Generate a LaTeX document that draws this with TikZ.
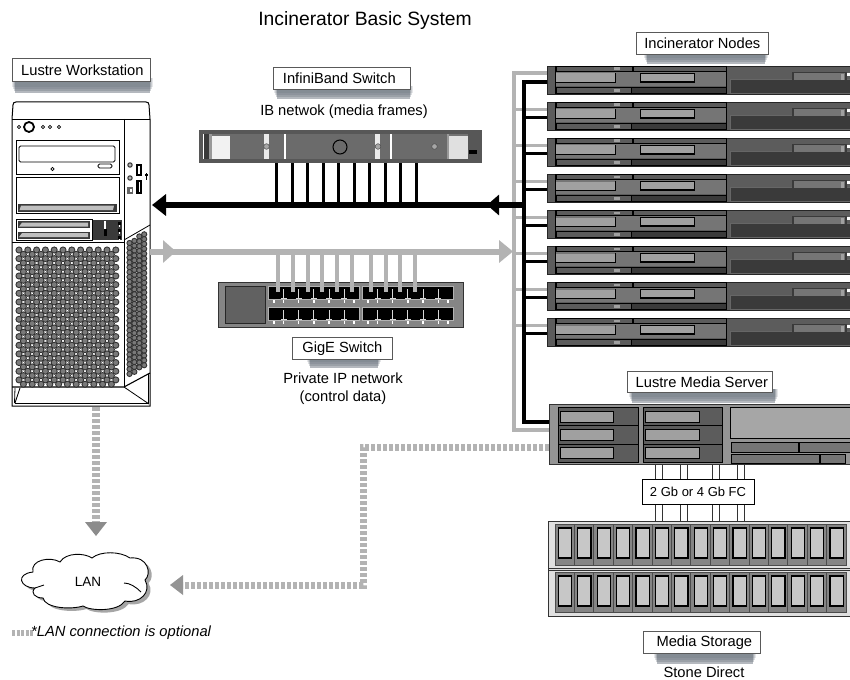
\documentclass[tikz,border=0pt]{standalone}
\usepackage{fontspec}
\setmainfont{Liberation Sans}
\usetikzlibrary{arrows.meta,calc}
\definecolor{busgray}{HTML}{B3B3B3}
\definecolor{shadowc}{HTML}{59636F}
\definecolor{rackdark}{HTML}{3A3A3A}
\definecolor{rackmid}{HTML}{5C5C5C}
\definecolor{racklt}{HTML}{757575}
\definecolor{slotc}{HTML}{A0A0A0}
\tikzset{
  lbl/.style={font=\fontsize{14.7}{17}\selectfont,inner sep=0pt,align=center},
  lblbox/.style={draw=black!65,line width=.7pt,fill=white,inner sep=0pt,font=\fontsize{14.7}{17}\selectfont},
  blackwire/.style={draw=black,line width=3.6pt},
  graywire/.style={draw=busgray,line width=3.6pt},
  blackbus/.style={draw=black,line width=6pt},
  graybus/.style={draw=busgray,line width=6pt},
  dev/.style={inner sep=0pt,anchor=north west},
  hw/.style={draw=black,line width=.8pt},
  mesh/.style={fill=black!52,draw=black!80,line width=.9pt},
}
% label box with soft shadow: name, x0,y0,x1,y1, shadow x0,x1, depth, text
\newcommand{\labelbox}[9]{%
  \foreach \e/\o in {3/.15,2/.2,1/.28,0/.45}{
    \fill[shadowc,opacity=\o] (#6-\e,#5-3) rectangle (#7+\e,#5+#8-\e*2);}
  \node[lblbox,name=#1,minimum width=#4pt-#2pt,minimum height=#5pt-#3pt,anchor=north west] at (#2,#3) {#9};
}
\newcommand{\rackunit}[2]{%
  \node[dev,name=#1,minimum width=303pt,minimum height=28pt,fill=rackmid,draw=black!85,line width=.8pt] at (547,#2) {};
  \begin{scope}[shift={(547,#2)}]
    \fill[racklt] (9,6) rectangle (179,20);
    \fill[rackmid,draw=black,line width=.7pt] (9,0.5) rectangle (85,5.5);
    \fill[rackmid,draw=black,line width=.7pt] (86,0.5) rectangle (179,5.5);
    \fill[slotc] (67,1.5) rectangle (73,4);
    \fill[rackmid,draw=black,line width=.7pt] (9,21) rectangle (84,27.5);
    \fill[rackdark,draw=black,line width=.7pt] (84,21) rectangle (179,27.5);
    \fill[slotc] (67,23) rectangle (73,26);
    \draw[black,line width=.8pt] (8,0) -- (8,28);
    \fill[slotc] (9,7.5) rectangle (68.5,16);
    \draw[black,line width=1.2pt] (68.5,7) -- (68.5,16.5) -- (9,16.5);
    \fill[slotc,draw=black,line width=1.1pt] (93.7,7.5) rectangle (147.3,16);
    \draw[black,line width=.8pt] (179,0) -- (179,28);
    \fill[rackdark,draw=black!60,line width=.7pt] (183,13) rectangle (303,27);
    \fill[racklt,draw=rackdark,line width=1.2pt] (246,6.5) rectangle (299,15);
    \fill[slotc] (293.5,8) rectangle (297,14);
    \fill[white] (300,7) rectangle (303,10);
  \end{scope}
}
\begin{document}
\begin{tikzpicture}[x=1pt,y=-1pt]
\useasboundingbox (0,0) rectangle (850,679);
\fill[white] (0,0) rectangle (850,679);
\node[font=\fontsize{19.3}{22}\selectfont,inner sep=0pt,name=title] at (365,20.5) {Incinerator Basic System};

% ---- workstation
\node[dev,name=ws,minimum width=138pt,minimum height=304pt] at (12,102) {};
\begin{scope}
  \draw[hw,line width=1pt,fill=white] (12,119) -- (13,105) .. controls (13,103) and (14,102) .. (16,102) -- (146,102) .. controls (148,102) and (149,103) .. (149,105) -- (150,119) -- (150,406) -- (12,406) -- cycle;
  \draw[hw] (12,119) -- (150,119);
  \draw[hw] (124,119) -- (124,387);
  \draw[hw] (12,242) -- (124,242);
  \draw[hw,line width=1.1pt] (12,387) -- (124,387) -- (150,373);
  \draw[hw] (124,240) -- (150,225);
  \draw[hw] (124,387) -- (149,404);
  \draw[hw] (14.5,403) -- (148,403) -- (148,374);
  \draw[hw] (14.5,403) -- (15,388);
  \draw[hw] (15,403) -- (20,388);
  % controls
  \draw[black,line width=1.8pt] (29,127) circle (5);
  \foreach \x in {19,43,50,59} \draw[black,line width=.8pt] (\x,127) circle (1.6);
  % drive bays
  \draw[hw,line width=1pt] (16,141) rectangle (119,174);
  \draw[hw,rounded corners=1.5pt] (19,146) rectangle (115,162);
  \draw[hw,rounded corners=1.5pt] (98,164) rectangle (112,168);
  \draw[hw] (52.5,169) circle (1.6);
  \draw[hw,line width=1pt] (16,177) rectangle (119,213);
  \fill[rackdark] (18,203.5) rectangle (117,211.5);
  \fill[black!25] (21,205.5) -- (114,205.5) -- (113,210) -- (19.5,210) -- cycle;
  \draw[hw,line width=1pt] (16,219.5) rectangle (92,240);
  \foreach \y in {221,231.5}{
    \fill[rackdark] (18,\y) rectangle (90,\y+7);
    \fill[black!25] (22,\y+1.6) -- (88,\y+1.6) -- (88,\y+5.6) -- (19,\y+5.6) -- cycle;}
  \fill[rackdark] (93,220) rectangle (122,240);
  \fill[white] (104,221) rectangle (106,232);
  \fill[black] (103.5,229) rectangle (106.5,236);
  \foreach \y in {222,229,236}{\fill[black] (118,\y) rectangle (121,\y+3);\fill[white] (119,\y+3) rectangle (120,\y+5);}
  % ports on side
  \foreach \y in {165,178}{\draw[black!80,line width=1pt,fill=black!30] (130,\y) circle (2.2);}
  \fill[black] (136,164) rectangle (142,176);
  \fill[black] (136,180) rectangle (142,194);
  \fill[white] (138,166) rectangle (140,174);
  \fill[white] (139,182) rectangle (140,192);
  \fill[black!60] (127,187) rectangle (133,194);
  \fill[white] (129.5,189) rectangle (132,192);
  \draw[black,line width=1pt] (146,173) -- (146,180);
  \fill[black] (144.5,174) rectangle (147.5,176);
  % front mesh
  \foreach \r in {0,...,31}{
    \pgfmathtruncatemacro\off{mod(\r,2)}
    \pgfmathtruncatemacro\cmax{\off==1?10:11}
    \foreach \c in {0,...,\cmax}{
      \filldraw[mesh] ({19+8.8*\c+\off*4.4},{250+4.33*\r}) circle (3.05);
    }}
  % side mesh
  \foreach \c in {0,...,3}{
    \pgfmathtruncatemacro\odd{mod(\c,2)}
    \foreach \r in {0,...,27}{
      \filldraw[mesh] ({129.5+4.9*\c},{243-3.3*\c+\r*4.85+\odd*1.2}) circle (2.6);
    }}
\end{scope}
\labelbox{lws}{12}{58}{150}{81}{15}{150}{12}{\hspace*{2pt}Lustre Workstation}

% ---- incinerator nodes
\foreach \i/\y in {1/66,2/102,3/138,4/174,5/210,6/246,7/282,8/318}{\rackunit{n\i}{\y}}
\labelbox{lnodes}{636}{32}{768}{54}{647}{765}{10}{Incinerator Nodes}

% ---- media server
\node[dev,name=ms,minimum width=301pt,minimum height=60pt,fill=black!42,draw=black!80,line width=1pt] at (549,404) {};
\foreach \a/\b/\c/\d in {558/638/560/613,643/722/645/699}{
  \fill[rackmid,draw=black,line width=1pt] (\a,407) rectangle (\b,462);
  \draw[black,line width=1pt] (\a,425.5) -- (\b,425.5) (\a,444) -- (\b,444);
  \foreach \y in {411,429,447}{\fill[slotc,draw=black,line width=1pt] (\c,\y) rectangle (\d,\y+11);}
}
\fill[black!35,draw=black,line width=1pt] (730,407) rectangle (850,438);
\foreach \a/\t/\b/\u in {731/442/798/452,799/442/850/452,731/454/819/463,820/454/845/463}{
  \fill[racklt,draw=black,line width=1pt] (\a,\t) rectangle (\b,\u);}
\labelbox{lms}{627}{371}{772}{392}{632}{775}{11}{\hspace*{4pt}Lustre Media Server}

% ---- storage
\node[dev,name=st,minimum width=302pt,minimum height=95pt,fill=black!12,draw=black!80,line width=1pt] at (548,521) {};
\draw[black!80,line width=1pt] (548,568) -- (850,568) (548,570.5) -- (850,570.5);
\foreach \ta/\tb/\sa/\sb in {524/565/528/558,572/612/576/606}{
  \foreach \k in {0,...,14}{
    \pgfmathsetmacro\bx{555+19.4*\k}
    \fill[black!48,draw=black!70,line width=.8pt] (\bx,\ta) rectangle (\bx+19.4,\tb);
    \fill[black!22,draw=black,line width=1.1pt] (\bx+3.4,\sa) rectangle (\bx+16.6,\sb);
  }}
\labelbox{lst}{643}{631}{760}{653}{657}{753}{11}{\hspace*{5pt}Media Storage}
\node[lbl,name=stone] at (704,672) {Stone Direct};

% ---- FC links
\foreach \x in {659,684,716,741}{
  \draw[draw=black!80,line width=7.6pt] (\x,0 |- ms.south) -- (\x,0 |- st.north);
  \draw[draw=white,line width=5.6pt] (\x,0 |- ms.south) -- (\x,0 |- st.north);
}
\node[draw=black,line width=.8pt,fill=white,font=\fontsize{13}{15}\selectfont,inner sep=0pt,minimum width=112pt,minimum height=25pt,name=fc] at (698,491.5) {2 Gb or 4 Gb FC};

% ---- IB switch
\node[dev,name=ib,minimum width=283pt,minimum height=33pt,fill=black!66] at (199,130) {};
\fill[white] (203,134) rectangle (477,159.5);
\fill[rackdark] (204,134) rectangle (209,159.5);
\fill[black!40] (209,134) rectangle (212,159.5);
\fill[black!5] (212,134) rectangle (230,159.5);
\fill[black!55] (212,134) rectangle (230,136.5);
\fill[black!58] (230,134) rectangle (264,159.5);
\fill[black!8] (264,134) rectangle (269,159.5);
\fill[black!58] (269,134) rectangle (284,159.5);
\fill[black!58] (286,134) rectangle (375,159.5);
\fill[black!8] (375,134) rectangle (380,159.5);
\fill[black!58] (380,134) rectangle (390,159.5);
\fill[black!58] (392,134) rectangle (447,159.5);
\fill[black!40] (447,134) rectangle (449,159.5);
\fill[black!12] (449,134) rectangle (468,159.5);
\fill[black!55] (449,134) rectangle (468,136.5);
\fill[black!66] (468,134) rectangle (477,159.5);
\fill[black] (469,150) rectangle (477,154);
\foreach \x in {266.5,378,434.5}{\filldraw[fill=black!35,draw=black!70,line width=.5pt] (\x,146.5) circle (2.8);}
\draw[black,line width=1pt] (340,147) circle (7);
\labelbox{lib}{273}{67}{410}{89}{277}{410}{10}{InfiniBand Switch\hspace*{5pt}}
\node[lbl,name=ibtxt] at (344,112) {IB netwok (media frames)};

% ---- GigE switch
\node[dev,name=ge,minimum width=245pt,minimum height=45pt,fill=black!48,draw=black!80,line width=.8pt] at (218,282) {};
\fill[black!62,draw=black!85,line width=1pt] (225,286) rectangle (265,323);
\foreach \y in {286,307}{
  \foreach \a in {268.3,362.3}{
    \fill[black,draw=black!30,line width=.5pt] (\a,\y) rectangle (\a+91,\y+13);
    \foreach \k in {1,...,5}{
      \draw[white!85!black,line width=.9pt] (\a+15.2*\k,\y+3) -- (\a+15.2*\k,\y+12) (\a+15.2*\k-3,\y+12) -- (\a+15.2*\k+3,\y+12);
      \fill[white] (\a+15.2*\k-.7,\y+14) rectangle (\a+15.2*\k+.7,\y+17);
    }
    \fill[white] (\a+5,\y+14) rectangle (\a+6.4,\y+17);
    \fill[white] (\a+85,\y+14) rectangle (\a+86.4,\y+17);
  }}
\labelbox{lge}{292}{337}{392}{359}{310}{378}{9}{GigE Switch}
\node[lbl,name=ip] at (343,389) {Private IP network\\[1pt](control data)};

% ---- wiring
\coordinate (graytop) at (514,73);
\coordinate (graybot) at (514,430);
\coordinate (blacktop) at (524,82);
\coordinate (blackbot) at (524,422);
\coordinate (jib) at (524,205);
\coordinate (jge) at (513,251.5);
\coordinate (midhead) at (487,205);
\coordinate (wsib) at (152,205);
\coordinate (wsge) at (150,251.5);
\coordinate (wsgehead) at (176,251.5);
\coordinate (lanr) at (170,585);
\coordinate (bendv) at (363,447);
\coordinate (bendh) at (363,585);
\coordinate (lanbase) at (183,585);
% gray control bus
\draw[graywire,line join=miter] (n1.west |- graytop) -- (graytop) -- (graybot) -- (ms.west |- graybot);
\foreach \i in {2,...,8}{\draw[graywire] ($(n\i.west)+(0,-7)$) -- ($(n\i.west)+(-33,-7)$);}
% gige stubs
\foreach \x in {278,293,308,322,337,352,371,386,400,415}{
  \draw[draw=busgray,line width=4pt] (\x,251) -- (\x,292);}
% ib stubs
\foreach \x in {276,292,307,323,338,354,369,385,400,416}{
  \draw[draw=black,line width=3pt] (\x,0 |- ib.south) -- (\x,203);}
% black bus
\draw[blackwire,line join=miter] (n1.west |- blacktop) -- (blacktop) -- (blackbot) -- (ms.west |- blackbot);
\foreach \i in {2,...,8}{\draw[blackwire] ($(n\i.west)+(0,1)$) -- ($(n\i.west)+(-23,1)$);}
% main arrows
\draw[blackbus,-{Triangle[length=14pt,width=21pt]}] (jib) -- (wsib);
\draw[blackbus,-{Triangle[length=12pt,width=20pt]}] (jib) -- (midhead);
\draw[graybus,-{Triangle[length=13pt,width=22pt]}] (wsge) -- (wsgehead);
\draw[graybus,-{Triangle[length=14pt,width=22pt]}] (wsge) -- (jge);

% ---- cloud
\def\cloudpath{(35,588) .. controls (20,588) and (15,574) .. (33,572) .. controls (30,560) and (50,556) .. (60,562) .. controls (66,552) and (85,553) .. (92,558) .. controls (100,551) and (120,551) .. (130,558) .. controls (148,556) and (152,574) .. (145,580) .. controls (152,592) and (140,604) .. (125,601) .. controls (118,612) and (90,611) .. (83,606) .. controls (70,610) and (45,608) .. (43,598) .. controls (35,598) and (30,593) .. cycle}
\fill[black!35,shift={(3.5,3)}] \cloudpath;
\filldraw[fill=white,draw=black,line width=.9pt] \cloudpath;
\draw[black,line width=.9pt] (124,583) .. controls (130,583) and (136,587) .. (141,592);
\draw[black,line width=.9pt] (35,588) .. controls (38,587) and (41,586) .. (44,585);
\node[name=lan,inner sep=0pt,font=\fontsize{13.5}{15}\selectfont] at (88,582) {LAN};

% LAN paths
\coordinate (lantop) at (96,522);
\coordinate (wsbot) at (96,407);
\draw[draw=busgray,line width=8pt,dash pattern=on 4pt off 2pt] (wsbot) -- (lantop);
\fill[black!45] (85,522) -- (107,522) -- (96,536) -- cycle;
\draw[draw=busgray,line width=7pt,dash pattern=on 4pt off 2pt] (ms.west |- bendv) -- (bendv) -- (bendh) -- (lanbase);
\fill[black!42] (183,575) -- (183,595) -- (lanr) -- cycle;

% ---- legend
\coordinate (lega) at (12,633);
\coordinate (legb) at (33,633);
\draw[draw=busgray,line width=6pt,dash pattern=on 3pt off 1.6pt] (lega) -- (legb);
\node[inner sep=0pt,anchor=west,font=\fontsize{14.7}{17}\selectfont\itshape,name=legend] at (31,633) {*LAN connection is optional};
\end{tikzpicture}
\end{document}
